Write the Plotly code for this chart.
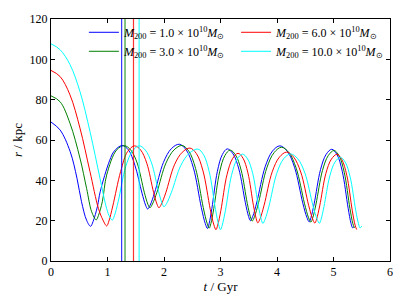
import plotly.graph_objects as go

# ---- data ----
labels = ["1.0", "3.0", "6.0", "10.0"]
colors = ["#0000ff", "#008000", "#ff0000", "#00ffff"]

t_blue = [0, 0.16, 0.34, 0.46, 0.54, 0.63, 0.70, 0.745, 0.823, 0.87, 1.04, 1.12, 1.26,
          1.37, 1.485, 1.61, 1.674, 1.71, 1.755, 1.833, 1.99, 2.13, 2.27,
          2.395, 2.52, 2.66, 2.73, 2.77, 2.798, 2.847, 2.945, 3.033, 3.12,
          3.223, 3.325, 3.44, 3.497, 3.53, 3.572, 3.644, 3.79, 3.92, 4.05,
          4.18, 4.31, 4.456, 4.528, 4.57, 4.602, 4.658, 4.77, 4.87, 4.97,
          5.063, 5.155, 5.259, 5.31, 5.34, 5.36]
r_blue = [68.9, 65.0, 54.2, 41.0, 29.4, 20.2, 17.2, 19.6, 27.2, 34.3, 50.0, 54.5, 57.3,
          55.1, 47.5, 33.7, 27.7, 25.8, 27.7, 33.8, 48.9, 55.7, 57.9,
          55.0, 46.2, 26.6, 18.6, 16.1, 18.5, 26.0, 44.5, 52.8, 55.6,
          53.1, 45.6, 28.9, 22.1, 20.0, 22.2, 29.3, 46.7, 54.5, 57.1,
          54.5, 46.5, 28.8, 21.7, 19.4, 21.6, 28.4, 45.3, 52.9, 55.4,
          52.7, 44.5, 26.2, 18.7, 16.4, 17.0]

t_green = [0, 0.16, 0.336, 0.513, 0.63, 0.72, 0.80, 0.84, 0.91, 0.985, 1.16, 1.30,
           1.4125, 1.525, 1.651, 1.714, 1.75, 1.796, 1.875, 2.035, 2.178, 2.32,
           2.44, 2.56, 2.694, 2.762, 2.80, 2.83, 2.881, 2.985, 3.078, 3.17,
           3.268, 3.365, 3.474, 3.529, 3.56, 3.602, 3.674, 3.82, 3.95, 4.08,
           4.21, 4.34, 4.486, 4.558, 4.60, 4.633, 4.69, 4.805, 4.908, 5.01,
           5.10, 5.19, 5.291, 5.341, 5.37]
r_green = [81.9, 79.0, 68.3, 51.0, 36.0, 24.4, 20.4, 22.6, 29.6, 42.6, 55.0, 57.2,
           55.0, 48.6, 34.1, 28.2, 26.4, 28.3, 34.1, 48.6, 55.1, 57.3,
           54.4, 45.8, 26.6, 18.8, 16.3, 18.6, 26.0, 44.2, 52.3, 55.0,
           52.5, 45.1, 28.6, 21.9, 19.8, 22.0, 29.0, 46.2, 53.8, 56.4,
           53.8, 46.0, 28.6, 21.5, 19.3, 21.4, 28.2, 44.9, 52.3, 54.8,
           52.1, 44.0, 26.0, 18.7, 16.4]

t_red = [0, 0.16, 0.336, 0.513, 0.69, 0.84, 0.92, 0.985, 1.025, 1.094, 1.2325, 1.356, 1.48,
         1.5875, 1.695, 1.815, 1.876, 1.91, 1.954, 2.031, 2.185, 2.3225, 2.46,
         2.575, 2.69, 2.819, 2.883, 2.92, 2.951, 3.006, 3.115, 3.2125, 3.31,
         3.3975, 3.485, 3.583, 3.632, 3.66, 3.701, 3.772, 3.915, 4.0425, 4.17,
         4.295, 4.42, 4.56, 4.63, 4.67, 4.701, 4.756, 4.865, 4.9625, 5.06,
         5.1475, 5.235, 5.333, 5.382, 5.41]
r_red = [94.5, 91.5, 82.4, 65.9, 44.3, 26.0, 20.3, 17.4, 19.8, 27.3, 44.4, 54.3, 57.1,
         55.0, 48.5, 34.1, 28.2, 26.4, 28.2, 33.8, 47.7, 53.9, 56.0,
         53.2, 44.7, 25.6, 17.9, 15.5, 17.8, 25.0, 42.8, 50.7, 53.4,
         51.0, 43.7, 27.5, 21.0, 18.9, 21.0, 27.7, 44.2, 51.5, 54.0,
         51.5, 44.1, 27.6, 20.9, 18.8, 20.8, 27.3, 43.4, 50.5, 52.9,
         50.3, 42.5, 24.9, 17.8, 15.6]

t_cyan = [0, 0.16, 0.336, 0.513, 0.69, 0.867, 0.985, 1.04, 1.085, 1.123, 1.1895, 1.3225, 1.441, 1.56,
          1.67, 1.78, 1.903, 1.965, 2.0, 2.048, 2.132, 2.30, 2.45, 2.60,
          2.70, 2.80, 2.912, 2.968, 3.0, 3.031, 3.086, 3.195, 3.2925, 3.39,
          3.48, 3.57, 3.671, 3.721, 3.75, 3.789, 3.858, 3.995, 4.1175, 4.24,
          4.3675, 4.495, 4.638, 4.709, 4.75, 4.78, 4.831, 4.935, 5.0275, 5.12,
          5.2075, 5.295, 5.393, 5.442, 5.47, 5.50]
r_cyan = [107.7, 104.8, 97.4, 84.0, 64.2, 41.0, 26.0, 21.8, 20.3, 22.5, 29.5, 46.8, 54.5, 57.1,
          55.0, 48.6, 34.5, 28.7, 26.9, 28.6, 34.1, 47.5, 53.5, 55.5,
          52.7, 44.3, 25.5, 17.9, 15.5, 17.8, 24.9, 42.5, 50.4, 53.0,
          50.6, 43.4, 27.2, 20.7, 18.6, 20.7, 27.2, 43.4, 50.7, 53.1,
          50.7, 43.5, 27.3, 20.8, 18.7, 20.7, 26.9, 42.2, 49.1, 51.4,
          49.0, 41.6, 25.2, 18.5, 16.4, 17.3]

vline_t = [1.25, 1.31, 1.46, 1.56]

x_ticks = [0, 1, 2, 3, 4, 5, 6]
y_ticks = [0, 20, 40, 60, 80, 100, 120]

series_t = [t_blue, t_green, t_red, t_cyan]
series_r = [r_blue, r_green, r_red, r_cyan]
legend_ids = ["legend", "legend", "legend2", "legend2"]

FONT = "Liberation Serif, Times New Roman, serif"

fig = go.Figure()
for t, r, c, lab, lg in zip(series_t, series_r, colors, labels, legend_ids):
    fig.add_trace(go.Scatter(
        x=t, y=r, mode="lines",
        line=dict(color=c, width=1, shape="spline", smoothing=1.0),
        name=f"<i>M</i><sub>200</sub> = {lab} × 10<sup>10</sup><i>M</i><sub>⊙</sub>",
        legend=lg,
    ))

for v, c in zip(vline_t, colors):
    fig.add_trace(go.Scatter(
        x=[v, v], y=[y_ticks[0], y_ticks[-1]], mode="lines",
        line=dict(color=c, width=1.2), opacity=0.8, showlegend=False, hoverinfo="skip",
    ))

axis_common = dict(
    showgrid=False, zeroline=False, showline=True, linecolor="black", linewidth=1,
    mirror="ticks", ticks="inside", ticklen=4, tickcolor="black", tickwidth=1,
    tickfont=dict(family=FONT, size=12, color="black"),
)

fig.update_layout(
    width=407, height=305,
    margin=dict(l=51, r=17, t=19, b=44),
    paper_bgcolor="white", plot_bgcolor="white",
    font=dict(family=FONT, size=12, color="black"),
    xaxis=dict(range=[0, 6], tickvals=x_ticks,
               title=dict(text="<i>t</i> / Gyr", font=dict(family=FONT, size=13), standoff=3),
               **axis_common),
    yaxis=dict(range=[0, 120], tickvals=y_ticks,
               title=dict(text="<i>r</i> / kpc", font=dict(family=FONT, size=13), standoff=4),
               **axis_common),
    legend=dict(x=0.097, y=1.005, xanchor="left", yanchor="top",
                bgcolor="rgba(0,0,0,0)", borderwidth=0,
                font=dict(family=FONT, size=12, color="black"), tracegroupgap=0),
    legend2=dict(x=0.546, y=1.005, xanchor="left", yanchor="top",
                 bgcolor="rgba(0,0,0,0)", borderwidth=0,
                 font=dict(family=FONT, size=12, color="black"), tracegroupgap=0),
    showlegend=True,
)

fig.write_html("out.html", config={"displayModeBar": False},
               post_script="document.body.style.margin='0';document.body.style.padding='0';")
